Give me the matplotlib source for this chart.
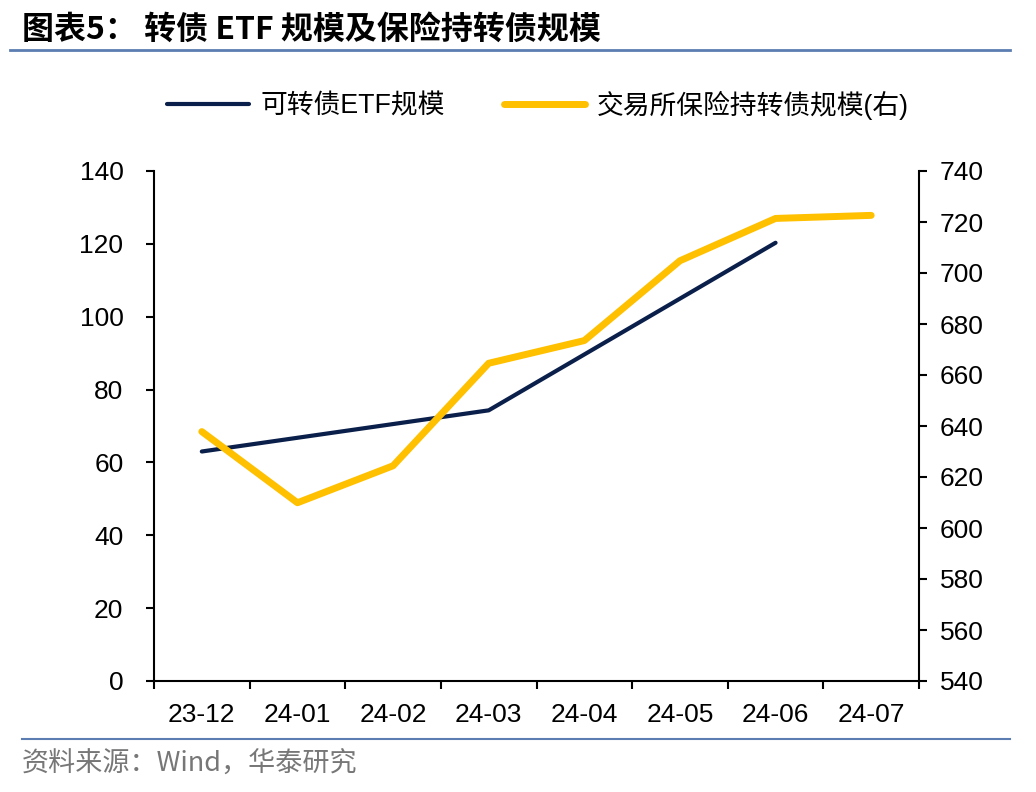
import numpy as np
import matplotlib
matplotlib.use("Agg")
import matplotlib.pyplot as plt
from matplotlib.lines import Line2D

plt.rcParams['font.family'] = ['Liberation Sans', 'Noto Sans CJK SC', 'DejaVu Sans']

categories = ["23-12", "24-01", "24-02", "24-03", "24-04", "24-05", "24-06", "24-07"]
etf_size = [63.0, np.nan, np.nan, 74.3, np.nan, np.nan, 120.3, np.nan]
insurance_size = [637.8, 609.9, 624.4, 664.6, 673.5, 704.8, 721.4, 722.6]
left_ticks = [0, 20, 40, 60, 80, 100, 120, 140]
right_ticks = [540, 560, 580, 600, 620, 640, 660, 680, 700, 720, 740]

title = "图表5： 转债 ETF 规模及保险持转债规模"
source = "资料来源：Wind，华泰研究"
label_etf = "可转债ETF规模"
label_ins = "交易所保险持转债规模(右)"

navy = "#0B1F4B"
yellow = "#FFC000"
rule_blue = "#5B7DB1"

fig = plt.figure(figsize=(10.36, 7.92), dpi=100)
ax = fig.add_axes([154/1036, 1-681/792, (919-154)/1036, (681-171)/792])
ax2 = ax.twinx()

x = np.arange(len(categories))
etf = np.array(etf_size)
m = ~np.isnan(etf)
ax.plot(x[m], etf[m], color=navy, lw=3.0, solid_capstyle='round', solid_joinstyle='round', zorder=3)
ax2.plot(x, insurance_size, color=yellow, lw=5.0, solid_capstyle='round', solid_joinstyle='round', zorder=3)

ax.set_xlim(-0.5, len(categories) - 0.5)
ax.set_ylim(0, 140)
ax2.set_ylim(540, 740)
ax.set_yticks(left_ticks)
ax2.set_yticks(right_ticks)
ax.set_xticks(x)
ax.set_xticklabels(categories)
ax.set_xticks(np.arange(-0.5, len(categories)), minor=True)
ax.tick_params(axis='x', which='major', length=0, pad=16, labelsize=19)
ax.tick_params(axis='x', which='minor', length=6, width=1.5, direction='out')
ax.tick_params(axis='y', length=6, width=1.5, direction='out', pad=16, labelsize=19)
ax2.tick_params(axis='y', length=6, width=1.5, direction='out', pad=9, labelsize=19)

for a in (ax, ax2):
    a.spines['top'].set_visible(False)
    for s in ('left', 'right', 'bottom'):
        a.spines[s].set_linewidth(1.5)
        a.spines[s].set_color('black')
ax.spines['right'].set_visible(False)
ax2.spines['left'].set_visible(False)
ax2.spines['bottom'].set_visible(False)

# Legend
handles = [Line2D([], [], color=navy, lw=3.0, solid_capstyle='round'),
           Line2D([], [], color=yellow, lw=5.0, solid_capstyle='round')]
fig.legend(handles, [label_etf, label_ins], loc='center', bbox_to_anchor=(538/1036, 1-105/792),
           ncol=2, frameon=False, fontsize=19.3, handlelength=3.05, columnspacing=2.2, handletextpad=0.42)

# Title and rules
fig.text(22/1036, 1-30/792, title, fontsize=23, fontweight='bold', ha='left', va='center',
         family=['Noto Sans CJK SC', 'DejaVu Sans'])
fig.add_artist(Line2D([10/1036, 1010/1036], [1-50/792, 1-50/792], color=rule_blue, lw=2))
fig.add_artist(Line2D([22/1036, 1010/1036], [1-739/792, 1-739/792], color=rule_blue, lw=1.5))
fig.text(22/1036, 1-764/792, source, fontsize=19.5, color='#777777', ha='left', va='center',
         family=['Noto Sans CJK SC', 'DejaVu Sans'])

fig.savefig("out.png", dpi=100)
